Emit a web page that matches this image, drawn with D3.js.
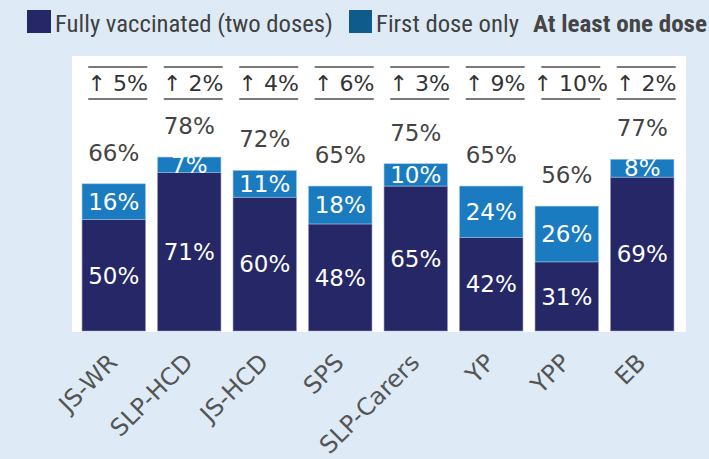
<!DOCTYPE html>
<html><head><meta charset="utf-8">
<script src="https://cdn.jsdelivr.net/npm/d3@7"></script>
<style>
html,body{margin:0;padding:0;background:#deebf7;}
svg{display:block;}
</style></head>
<body>
<svg id="chart" width="709" height="459"></svg>
<script>
const categories = ["JS-WR","SLP-HCD","JS-HCD","SPS","SLP-Carers","YP","YPP","EB"];
const fullyVaccinated = [50,71,60,48,65,42,31,69];
const firstDoseOnly = [16,7,11,18,10,24,26,8];
const atLeastOne = [66,78,72,65,75,65,56,77];
const increase = [5,2,4,6,3,9,10,2];
const legendLabels = ["Fully vaccinated (two doses)","First dose only","At least one dose"];

const svg = d3.select("#chart");
const navy = "#252766", blue = "#1a7bc0", legendBlue = "#0f5b8c";
const numFont = "'DejaVu Sans', Verdana, sans-serif";
const legFont = "'Liberation Sans Narrow','Roboto Condensed','Open Sans',sans-serif";

// panel
svg.append("rect").attr("x",72).attr("y",56).attr("width",614).attr("height",276).attr("fill","#ffffff");

const x = d3.scaleBand().domain(categories).range([76,680]).paddingInner(0.16).paddingOuter(0.08);
const y = d3.scaleLinear().domain([0,100]).range([331,108]);

const g = svg.append("g");
const data = categories.map((c,i)=>({c, f:fullyVaccinated[i], d:firstDoseOnly[i], t:atLeastOne[i], inc:increase[i]}));

// fully segments
g.selectAll("rect.full").data(data).join("rect").attr("class","full")
  .attr("x",d=>x(d.c)).attr("width",x.bandwidth())
  .attr("y",d=>y(d.f)).attr("height",d=>y(0)-y(d.f))
  .attr("fill",navy).attr("stroke","#8f93b8").attr("stroke-width",0.6);
// first dose segments
g.selectAll("rect.first").data(data).join("rect").attr("class","first")
  .attr("x",d=>x(d.c)).attr("width",x.bandwidth())
  .attr("y",d=>y(d.t)).attr("height",d=>y(d.f)-y(d.t))
  .attr("fill",blue).attr("stroke","#9cc4e4").attr("stroke-width",0.6);

// inside labels
g.selectAll("text.fl").data(data).join("text")
  .attr("x",d=>x(d.c)+x.bandwidth()/2).attr("y",d=>(y(0)+y(d.f))/2)
  .attr("dy","0.36em").attr("text-anchor","middle")
  .attr("font-family",numFont).attr("font-size",23).attr("fill","#ffffff")
  .text(d=>d.f+"%");
g.selectAll("text.dl").data(data).join("text")
  .attr("x",d=>x(d.c)+x.bandwidth()/2).attr("y",d=>(y(d.f)+y(d.t))/2)
  .attr("dy","0.36em").attr("text-anchor","middle")
  .attr("font-family",numFont).attr("font-size",23).attr("fill","#ffffff")
  .text(d=>d.d+"%");
// totals
g.selectAll("text.tl").data(data).join("text")
  .attr("x",d=>x(d.c)+x.bandwidth()/2).attr("y",d=>y(d.t)-23)
  .attr("text-anchor","middle")
  .attr("font-family",numFont).attr("font-size",23).attr("fill","#444444")
  .text(d=>d.t+"%");

// increase labels with lines
const inc = g.selectAll("g.inc").data(data).join("g")
  .attr("transform",d=>`translate(${x(d.c)+x.bandwidth()/2+4},0)`);
inc.append("line").attr("x1",-29.5).attr("x2",29.5).attr("y1",67).attr("y2",67).attr("stroke","#7a7a7a").attr("stroke-width",2);
inc.append("line").attr("x1",-29.5).attr("x2",29.5).attr("y1",99).attr("y2",99).attr("stroke","#7a7a7a").attr("stroke-width",2);
inc.append("text").attr("y",91).attr("text-anchor","middle")
  .attr("font-family",numFont).attr("font-size",22).attr("fill","#333333")
  .text(d=>"\u2191 "+d.inc+"%");

// x axis labels
const xa = svg.append("g").attr("transform","translate(0,331)")
  .call(d3.axisBottom(x).tickSize(0).tickPadding(0));
xa.select(".domain").remove();
xa.selectAll("text")
  .attr("font-family",numFont).attr("font-size",24).attr("fill","#555555")
  .attr("text-anchor","end").attr("dy",0)
  .attr("transform","translate(5,33) rotate(-45)");

// legend
const leg = svg.append("g");
leg.append("rect").attr("x",27).attr("y",10).attr("width",24).attr("height",23).attr("fill",navy);
leg.append("text").attr("x",55).attr("y",32).attr("font-family",legFont).attr("font-size",23)
  .attr("fill","#404040").attr("textLength",278).attr("lengthAdjust","spacingAndGlyphs").text(legendLabels[0]);
leg.append("rect").attr("x",349).attr("y",10).attr("width",23).attr("height",23).attr("fill",legendBlue);
leg.append("text").attr("x",376).attr("y",32).attr("font-family",legFont).attr("font-size",23)
  .attr("fill","#404040").attr("textLength",143).attr("lengthAdjust","spacingAndGlyphs").text(legendLabels[1]);
leg.append("text").attr("x",533).attr("y",32).attr("font-family",legFont).attr("font-size",23).attr("font-weight","bold")
  .attr("fill","#454545").attr("textLength",174).attr("lengthAdjust","spacingAndGlyphs").text(legendLabels[2]);
</script>
</body></html>
